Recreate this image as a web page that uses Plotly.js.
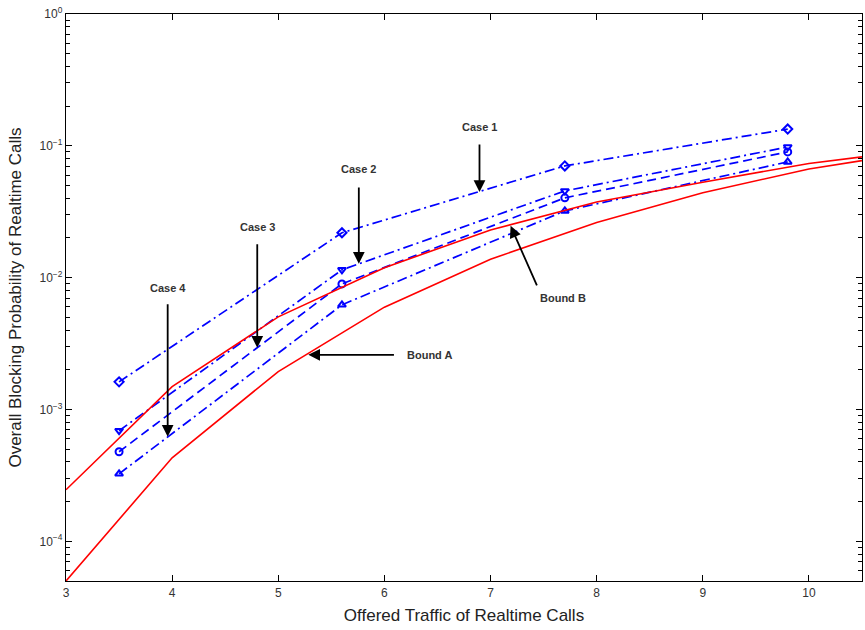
<!DOCTYPE html>
<html><head><meta charset="utf-8">
<script src="https://cdn.plot.ly/plotly-3.0.1.min.js"></script>
<style>body{margin:0;background:#fff}#chart{width:865px;height:630px}</style>
</head><body><div id="chart"></div>
<script>
// ---- data ----
const caseX = [3.5, 5.6, 7.7, 9.8];
const case1 = [1.62e-3, 0.0219, 0.0704, 0.134];
const case2 = [6.9e-4, 0.01146, 0.0455, 0.098];
const case3 = [4.78e-4, 0.00897, 0.0403, 0.0899];
const case4 = [3.25e-4, 0.00622, 0.0321, 0.0755];

const boundX = [3, 4, 5, 6, 7, 8, 9, 10, 10.5];
const boundA = [5.0e-5, 4.30e-4, 1.94e-3, 5.97e-3, 0.0138, 0.0262, 0.0440, 0.0668, 0.0772];
const boundB = [2.46e-4, 1.49e-3, 5.04e-3, 0.0119, 0.0230, 0.0375, 0.0530, 0.0735, 0.0825];

const xTickVals = [3, 4, 5, 6, 7, 8, 9, 10];
const yTickVals = [1e-4, 1e-3, 1e-2, 1e-1, 1];
const yTickText = ['10<sup>−4</sup>', '10<sup>−3</sup>', '10<sup>−2</sup>', '10<sup>−1</sup>', '10<sup>0</sup>'];

const caseNames = ['Case 1', 'Case 2', 'Case 3', 'Case 4'];
const boundNames = ['Bound A', 'Bound B'];
const xTitle = 'Offered Traffic of Realtime Calls';
const yTitle = 'Overall Blocking Probability of Realtime Calls';

// ---- styles ----
const blue = '#0000ff', red = '#ff0000';
const caseSeries = [case1, case2, case3, case4];
const caseSymbols = ['diamond-open', 'triangle-down-open', 'circle-open', 'triangle-up-open'];
const caseDash = ['10px,4px,2px,4px', '10px,4px,2px,4px', '9px,5px', '10px,4px,2px,4px'];

const traces = caseSeries.map((ys, i) => ({
  x: caseX, y: ys, name: caseNames[i], mode: 'lines+markers', type: 'scatter',
  line: {color: blue, width: 1.7, dash: caseDash[i]},
  marker: {symbol: caseSymbols[i], size: 7, color: blue, line: {width: 2, color: blue}}
}));
traces.push({x: boundX, y: boundA, name: boundNames[0], mode: 'lines', line: {color: red, width: 1.6}});
traces.push({x: boundX, y: boundB, name: boundNames[1], mode: 'lines', line: {color: red, width: 1.6}});

// annotation placement (data coords; y in log10 units)
const labelPos = [
  {x: 6.896, y: -0.857}, {x: 5.759, y: -1.175}, {x: 4.802, y: -1.615}, {x: 3.958, y: -2.077}
];
const arrowPos = [
  {x: 6.896, y: -1.350, ax: 6.896, ay: -0.978},
  {x: 5.759, y: -1.895, ax: 5.759, ay: -1.304},
  {x: 4.802, y: -2.532, ax: 4.802, ay: -1.736},
  {x: 3.958, y: -3.207, ax: 3.958, ay: -2.191}
];
const boundLabelPos = [{x: 6.425, y: -2.585}, {x: 7.68, y: -2.153}];
const boundArrowPos = [
  {x: 5.283, y: -2.585, ax: 6.104, ay: -2.585},
  {x: 7.189, y: -1.607, ax: 7.443, ay: -2.070}
];
const annFont = {family: 'Liberation Sans, Arial, sans-serif', size: 11, color: '#333'};
const titleFont = {family: 'Liberation Sans, Arial, sans-serif', size: 17, color: '#222'};
const annotations = [];
caseNames.forEach((t, i) => {
  annotations.push({x: labelPos[i].x, y: labelPos[i].y, xref: 'x', yref: 'y', text: '<b>' + t + '</b>', showarrow: false, font: annFont});
  annotations.push({x: arrowPos[i].x, y: arrowPos[i].y, ax: arrowPos[i].ax, ay: arrowPos[i].ay,
    xref: 'x', yref: 'y', axref: 'x', ayref: 'y', text: '', showarrow: true,
    arrowhead: 2, arrowsize: 1.3, arrowwidth: 1.8, arrowcolor: '#000', standoff: 0, startstandoff: 0});
});
boundNames.forEach((t, i) => {
  annotations.push({x: boundLabelPos[i].x, y: boundLabelPos[i].y, xref: 'x', yref: 'y', xanchor: 'center',
    text: '<b>' + t + '</b>', showarrow: false, font: annFont});
  annotations.push({x: boundArrowPos[i].x, y: boundArrowPos[i].y, ax: boundArrowPos[i].ax, ay: boundArrowPos[i].ay,
    xref: 'x', yref: 'y', axref: 'x', ayref: 'y', text: '', showarrow: true,
    arrowhead: 2, arrowsize: 1.3, arrowwidth: 1.8, arrowcolor: '#000', standoff: 0, startstandoff: 0});
});
// y-axis title placed as a rotated label to match the reference position
annotations.push({xref: 'paper', yref: 'paper', x: -0.064, y: 0.5, xanchor: 'center', yanchor: 'middle',
  textangle: -90, text: yTitle, showarrow: false, font: titleFont});

const tickFont = {family: 'Liberation Sans, Arial, sans-serif', size: 12, color: '#333'};

const layout = {
  width: 865, height: 630,
  margin: {l: 66, r: 3, t: 14, b: 49},
  paper_bgcolor: '#fff', plot_bgcolor: '#fff',
  showlegend: false,
  xaxis: {
    range: [3, 10.5], tickvals: xTickVals, ticks: 'inside', ticklen: 6, tickwidth: 1, tickcolor: '#000',
    showline: true, linecolor: '#000', linewidth: 1.2, mirror: 'ticks', showgrid: false, zeroline: false,
    tickfont: tickFont,
    title: {text: xTitle, font: titleFont, standoff: 10}
  },
  yaxis: {
    type: 'log', range: [Math.log10(5e-5), 0],
    tickvals: yTickVals, ticktext: yTickText, ticks: 'inside', ticklen: 6, tickwidth: 1, tickcolor: '#000',
    minor: {ticks: 'inside', ticklen: 4, tickwidth: 1, tickcolor: '#000', dtick: 'D1', showgrid: false},
    showline: true, linecolor: '#000', linewidth: 1.2, mirror: 'ticks', showgrid: false, zeroline: false,
    tickfont: tickFont
  },
  annotations: annotations
};

Plotly.newPlot('chart', traces, layout, {displayModeBar: false, staticPlot: true});
</script>
</body></html>
